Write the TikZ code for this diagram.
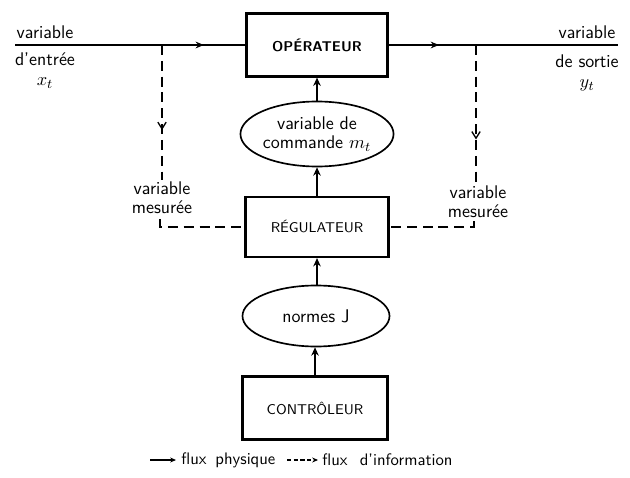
\documentclass[tikz,border=0pt]{standalone}
\usetikzlibrary{shapes.geometric,arrows.meta,decorations.markings}
\begin{document}
\begin{tikzpicture}[x=0.6pt,y=-0.6pt,
  font=\sffamily\fontsize{11}{11.4}\selectfont,
  boxnode/.style={draw,line width=1.3pt,rectangle,inner sep=0pt,font=\sffamily\fontsize{8.5}{9}\selectfont},
  ellnode/.style={draw,line width=1pt,ellipse,inner sep=0pt,align=center},
  lbl/.style={align=center,inner sep=0pt},
  flow/.style={line width=0.9pt},
  info/.style={line width=0.8pt,dash pattern=on 6pt off 3.5pt},
  tip/.style={-{Stealth[length=5pt,width=4.5pt]}},
  midarrow/.style={postaction={decorate},decoration={markings,mark=at position #1 with {\arrow{Stealth[length=5pt,width=4pt]}}}},
  midbarb/.style={postaction={decorate},decoration={markings,mark=at position #1 with {\arrow[solid]{Straight Barb[length=4pt,width=5pt]}}}},
]
\useasboundingbox (0,0) rectangle (630,478);

% nodes
\node[boxnode,minimum width=84.6pt,minimum height=37.8pt] (op) at (317,45) {\bfseries OPÉRATEUR};
\node[ellnode,minimum width=88.2pt,minimum height=39pt] (cmd) at (317,134) {variable de\\commande $m_t$};
\node[boxnode,minimum width=85.8pt,minimum height=36pt] (reg) at (317,227) {RÉGULATEUR};
\node[ellnode,minimum width=88.2pt,minimum height=36.6pt] (nj) at (316,316) {normes J};
\node[boxnode,minimum width=87pt,minimum height=37.8pt] (ct) at (315,408) {CONTRÔLEUR};

% input / output labels
\node[lbl] (in1) at (45,32) {variable};
\node[lbl,anchor=north] (in2) at (45,52) {d'entrée\\[1pt]$x_t$};
\node[lbl] (out1) at (587,32) {variable};
\node[lbl,anchor=north] (out2) at (587,54) {de sortie\\[1pt]$y_t$};

\coordinate (inL) at (15,45);
\coordinate (outR) at (618,45);
\coordinate (bl) at (162,45);
\coordinate (br) at (476,45);

% physical flow
\draw[flow,midarrow=0.82] (inL) -- (op.west);
\draw[flow,midarrow=0.22] (op.east) -- (outR);
\draw[flow,tip] (cmd.north) -- (op.south);
\draw[flow,tip] (reg.north) -- (cmd.south);
\draw[flow,tip] (nj.north) -- (reg.north |- nj.north) -- (reg.south);
\draw[flow,tip] (ct.north) -- (ct.north |- nj.south);

% measured variables (information)
\node[lbl] (lm) at (162,198) {variable\\mesurée};
\node[lbl] (rm) at (478,202) {variable\\mesurée};
\coordinate (bl2) at (162,180);
\coordinate (bl3) at (160,219);
\coordinate (br2) at (476,186);
\coordinate (br3) at (474,221);

\draw[info,midbarb=0.63] (bl) -- (bl2);
\draw[info] (bl3) |- (reg.west);
\draw[info,midbarb=0.67] (br) -- (br2);
\draw[info] (br3) |- (reg.east);

% legend
\coordinate (ls1) at (150,460);
\coordinate (ls2) at (176,460);
\coordinate (ld1) at (287,460);
\coordinate (ld2) at (318,460);
\node[anchor=west,inner sep=0pt,font=\sffamily\fontsize{10}{11}\selectfont] (lt1) at (181,460) {flux\hspace{2pt} physique};
\node[anchor=west,inner sep=0pt,font=\sffamily\fontsize{10}{11}\selectfont] (lt2) at (322,460) {flux\hspace{4pt} d'information};
\draw[flow,-{Stealth[length=3.5pt,width=3pt]}] (ls1) -- (ls2);
\draw[line width=0.8pt,dash pattern=on 2.5pt off 1.5pt,-{Stealth[length=3.5pt,width=3pt]}] (ld1) -- (ld2);
\end{tikzpicture}
\end{document}
